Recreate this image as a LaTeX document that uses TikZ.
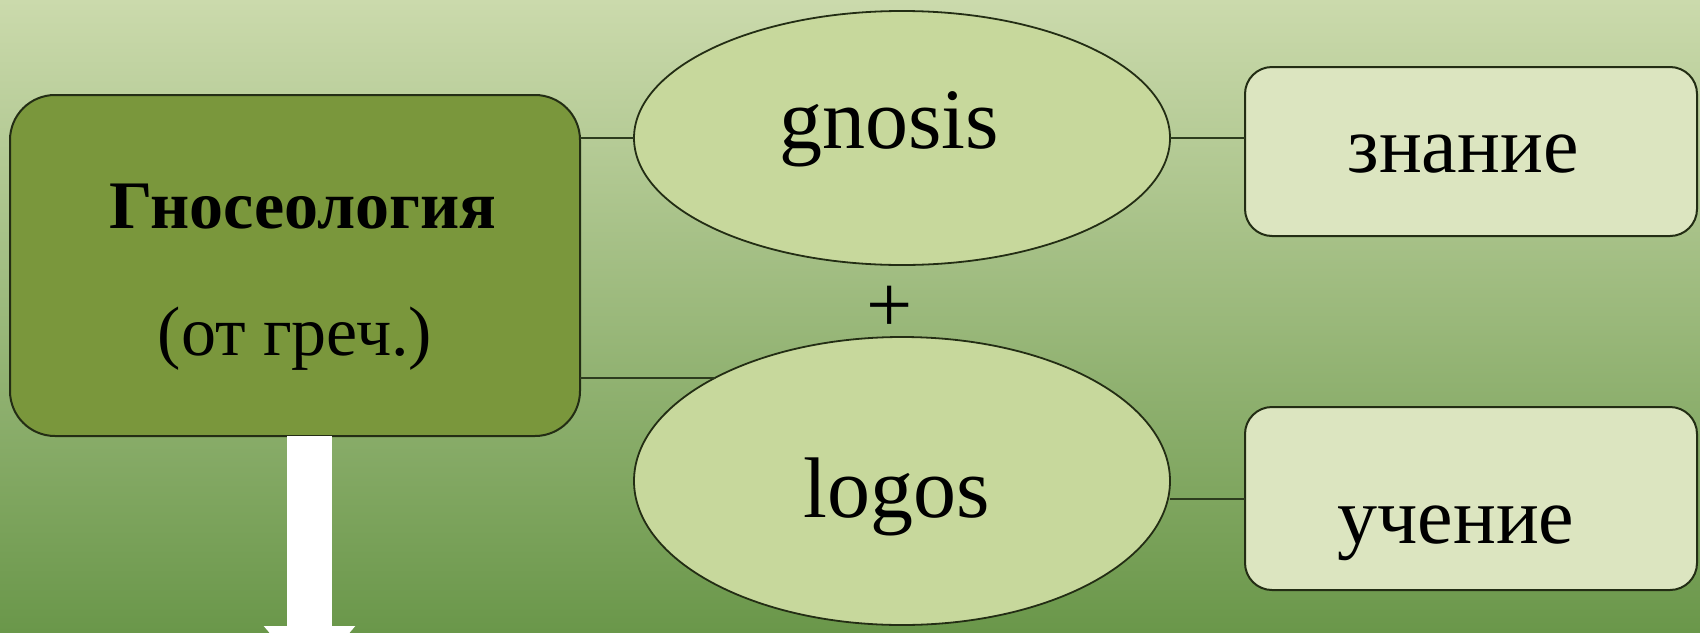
\documentclass[tikz,border=0pt]{standalone}
\usepackage{fontspec}
\setmainfont{Liberation Serif}
\usetikzlibrary{shapes.geometric,arrows.meta}
\definecolor{bgtop}{RGB}{203,218,172}
\definecolor{bgmid}{RGB}{166,193,122}
\definecolor{bgbot}{RGB}{106,151,74}
\definecolor{mainfill}{RGB}{122,151,60}
\definecolor{ellfill}{RGB}{199,216,156}
\definecolor{boxfill}{RGB}{220,229,192}
\definecolor{edgec}{RGB}{35,45,20}
\definecolor{linkc}{RGB}{45,60,30}
\begin{document}
\begin{tikzpicture}[x=0.5pt,y=-0.5pt,
  mainbox/.style={draw=edgec, line width=1pt, fill=mainfill, rounded corners=22.5pt,
    minimum width=285pt, minimum height=170.5pt, inner sep=0pt, outer sep=0pt},
  ell/.style={ellipse, draw=edgec, line width=0.9pt, fill=ellfill, inner sep=0pt,
    outer sep=0pt, minimum width=268pt},
  wordbox/.style={draw=edgec, line width=1pt, fill=boxfill, rounded corners=13.5pt,
    minimum width=226pt, inner sep=0pt, outer sep=0pt},
  link/.style={draw=linkc, line width=1pt},
  txt/.style={anchor=base, inner sep=0pt, outer sep=0pt, text=black},
]
\useasboundingbox (0,0) rectangle (1700,632);
\clip (0,0) rectangle (1700,632);
\shade[top color=bgtop, middle color=bgmid, bottom color=bgbot] (0,0) rectangle (1700,632);

% shapes
\node[mainbox] (main) at (295,265.5) {};
\node[ell, minimum height=127pt] (gnosis) at (902,138) {};
\node[ell, minimum height=144pt] (logos) at (902,481) {};
\node[wordbox, minimum height=84.5pt] (znanie) at (1471,151.5) {};
\node[wordbox, minimum height=91.5pt] (uchenie) at (1471,498.5) {};

% arrow
\coordinate (arrowend) at (309.5,680);
\draw[white, line width=22.5pt, -{Triangle[width=44pt,length=27pt]}]
  (main.south -| arrowend) -- (arrowend);

% connectors
\draw[link] (main.east |- gnosis.west) -- (gnosis.west);
\draw[link] (main.east |- logos.151.2) -- (logos.151.2);
\draw[link] (gnosis.east) -- (znanie.west |- gnosis.east);
\draw[link] (uchenie.west -| logos.east) -- (uchenie.west);

% texts
\node[txt, font=\bfseries\fontsize{34pt}{40pt}\selectfont] (t1) at (303,228) {Гносеология};
\node[txt, font=\fontsize{35pt}{42pt}\selectfont] (t2) at (295,355) {(от греч.)};
\node[txt, font=\fontsize{43pt}{50pt}\selectfont] (t3) at (889,148) {gnosis};
\node[txt, font=\fontsize{41pt}{48pt}\selectfont] (plus) at (890,332) {+};
\node[txt, font=\fontsize{43pt}{50pt}\selectfont] (t4) at (897,517) {logos};
\node[txt, font=\fontsize{40pt}{48pt}\selectfont] (t5) at (1463,172) {знание};
\node[txt, font=\fontsize{40pt}{48pt}\selectfont] (t6) at (1456,543) {учение};
\end{tikzpicture}
\end{document}
